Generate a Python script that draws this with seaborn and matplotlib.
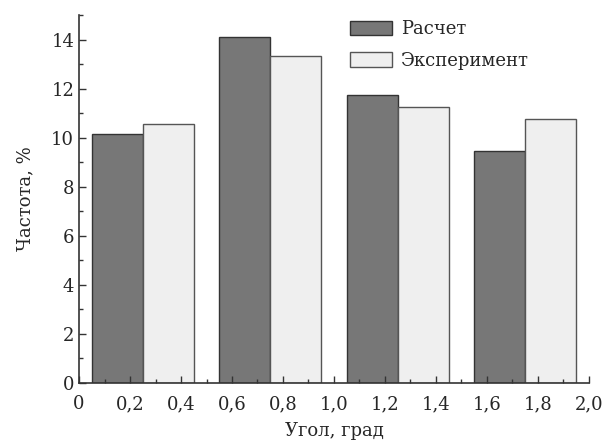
import pandas as pd
import seaborn as sns
import matplotlib.pyplot as plt
from matplotlib.ticker import MultipleLocator, FuncFormatter

# Group centres of the angle bins (grad) and frequencies (%)
angle_bins = [0.25, 0.75, 1.25, 1.75]
calc_values = [10.15, 14.12, 11.75, 9.44]
exp_values = [10.55, 13.33, 11.26, 10.76]
series_names = ["Расчет", "Эксперимент"]

sns.set_style("ticks")
plt.rcParams['font.family'] = ['DejaVu Serif', 'Liberation Serif']
plt.rcParams['font.size'] = 13

df = pd.DataFrame({
    "angle": angle_bins * 2,
    "freq": calc_values + exp_values,
    "series": [series_names[0]] * 4 + [series_names[1]] * 4,
})

fig = plt.figure(figsize=(6.14, 4.44), dpi=100)
ax = fig.add_axes([0.1287, 0.1374, 0.8305, 0.8286])

sns.barplot(data=df, x="angle", y="freq", hue="series", native_scale=True,
            width=0.8, palette=["#777777", "#efefef"], saturation=1,
            linewidth=1.0, edgecolor="#333333", ax=ax)

for p in ax.patches:
    if p.get_facecolor()[0] > 0.8:
        p.set_edgecolor("#555555")

ax.set_axisbelow(False)
ax.set_xlim(0, 2.0)
ax.set_ylim(0, 15)
ax.xaxis.set_major_locator(MultipleLocator(0.2))
ax.xaxis.set_minor_locator(MultipleLocator(0.1))
ax.yaxis.set_major_locator(MultipleLocator(2))
ax.yaxis.set_minor_locator(MultipleLocator(1))
ax.xaxis.set_major_formatter(FuncFormatter(
    lambda v, _: "0" if abs(v) < 1e-9 else f"{v:.1f}".replace(".", ",")))
ax.tick_params(which="both", direction="in", color="#333333", width=1)
ax.tick_params(which="major", length=5, labelsize=13)
ax.tick_params(axis="x", which="major", pad=9)
ax.tick_params(which="minor", length=3)
for s in ["top", "right"]:
    ax.spines[s].set_visible(False)
for s in ["left", "bottom"]:
    ax.spines[s].set_color("#333333")
    ax.spines[s].set_linewidth(1.2)

ax.set_xlabel("Угол, град", fontsize=13, labelpad=6)
ax.set_ylabel("Частота, %", fontsize=13, labelpad=12)

ax.legend(frameon=False, loc="upper left", bbox_to_anchor=(0.5, 1.03),
          handlelength=2.3, handleheight=0.85, labelspacing=0.75,
          handletextpad=0.5, fontsize=13, title=None)

plt.savefig("out.png", dpi=100)
